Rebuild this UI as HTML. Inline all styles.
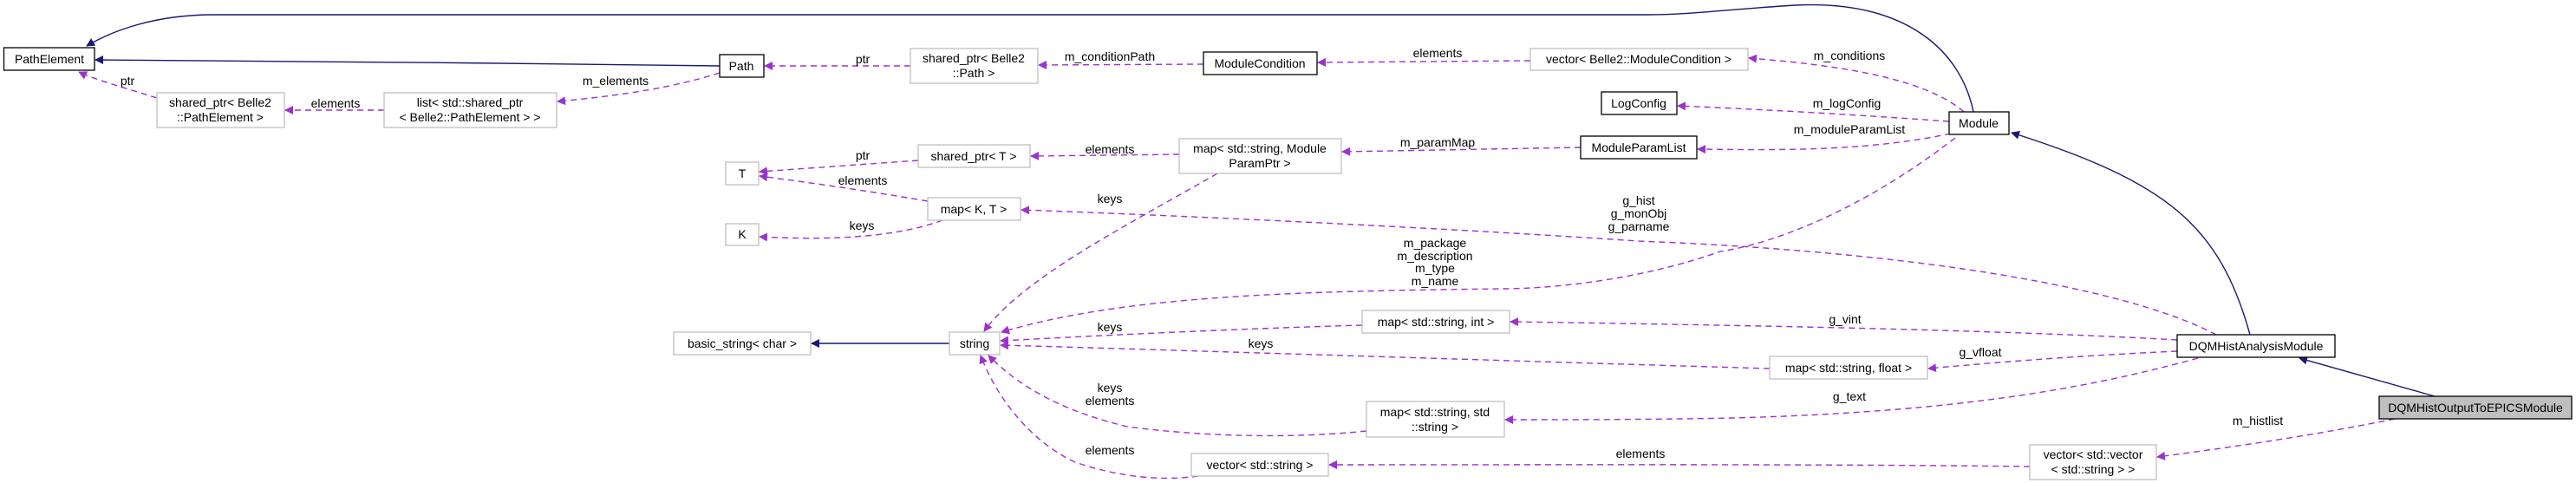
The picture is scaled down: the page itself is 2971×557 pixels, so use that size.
<!DOCTYPE html>
<html><head><meta charset="utf-8"><style>
html,body{margin:0;padding:0;background:#fff;}
svg{display:block;}
text{font-family:"Liberation Sans",sans-serif;font-size:14px;fill:#000;}
.b{fill:#fff;stroke:#000;stroke-width:1.3;}
.g{fill:#fff;stroke:#bfbfbf;stroke-width:1.3;}
.n{fill:none;stroke:#191970;stroke-width:1.4;}
.d{fill:none;stroke:#9a32cd;stroke-width:1.4;stroke-dasharray:7,5;}
</style></head><body>
<svg width="2971" height="557" viewBox="0 0 2971 557" xmlns="http://www.w3.org/2000/svg">
<defs>
<marker id="an" markerWidth="10" markerHeight="10" refX="9" refY="5" orient="auto" markerUnits="userSpaceOnUse" viewBox="0 0 10 10"><path d="M0,0 L10,5 L0,10 z" fill="#191970"/></marker>
<marker id="ap" markerWidth="10" markerHeight="10" refX="9" refY="5" orient="auto" markerUnits="userSpaceOnUse" viewBox="0 0 10 10"><path d="M0,0 L10,5 L0,10 z" fill="#9a32cd"/></marker>
</defs>

<!-- solid inheritance edges -->
<path class="n" marker-end="url(#an)" d="M2276,129 C2262,60 2200,0 2071,6 C2000,10 1950,17 1900,17 L245,17 C180,17 130,35 100,53"/>
<path class="n" marker-end="url(#an)" d="M830,76 C600,73 300,70 110,69"/>
<path class="n" marker-end="url(#an)" d="M2595,386 C2560,260 2500,210 2320,153"/>
<path class="n" marker-end="url(#an)" d="M2808,457 L2652,413"/>
<path class="n" marker-end="url(#an)" d="M1095,396 L936,396"/>

<!-- dashed edges -->
<path class="d" marker-end="url(#ap)" d="M181,113 C140,100 110,92 91,83"/>
<path class="d" marker-end="url(#ap)" d="M443,127 L329,127"/>
<path class="d" marker-end="url(#ap)" d="M830,84 C780,100 720,110 643,117"/>
<path class="d" marker-end="url(#ap)" d="M1050,76 L882,76"/>
<path class="d" marker-end="url(#ap)" d="M1388,74 L1198,75"/>
<path class="d" marker-end="url(#ap)" d="M1765,70 L1520,72"/>
<path class="d" marker-end="url(#ap)" d="M2265,129 C2220,90 2120,75 2017,67"/>
<path class="d" marker-end="url(#ap)" d="M2248,140 C2150,133 2050,127 1935,122"/>
<path class="d" marker-end="url(#ap)" d="M2250,154 C2150,175 2050,173 1958,172"/>
<path class="d" marker-end="url(#ap)" d="M1823,170 L1548,175"/>
<path class="d" marker-end="url(#ap)" d="M1360,178 L1189,180"/>
<path class="d" marker-end="url(#ap)" d="M1059,185 L876,198"/>
<path class="d" marker-end="url(#ap)" d="M1070,232 C1000,220 930,210 876,203"/>
<path class="d" marker-end="url(#ap)" d="M1087,254 C1030,275 950,277 876,273"/>
<path class="d" marker-end="url(#ap)" d="M1404,200 C1300,260 1180,320 1135,382"/>
<path class="d" marker-end="url(#ap)" d="M2556,386 C2450,330 2200,290 1889,278 C1700,265 1400,250 1178,242"/>
<path class="d" marker-end="url(#ap)" d="M2255,159 C2150,240 2050,280 1984,290 C1900,320 1800,333 1731,333 C1500,336 1300,340 1155,383"/>
<path class="d" marker-end="url(#ap)" d="M2511,392 C2300,380 2000,375 1742,371"/>
<path class="d" marker-end="url(#ap)" d="M1571,375 C1400,380 1250,388 1154,393"/>
<path class="d" marker-end="url(#ap)" d="M2041,425 C1700,415 1400,405 1154,398"/>
<path class="d" marker-end="url(#ap)" d="M2511,405 C2400,410 2300,418 2224,425"/>
<path class="d" marker-end="url(#ap)" d="M2535,413 C2400,450 2250,475 2000,482 C1900,484 1800,484 1736,484"/>
<path class="d" marker-end="url(#ap)" d="M1576,497 C1500,505 1400,505 1300,492 C1230,475 1180,450 1140,410"/>
<path class="d" marker-end="url(#ap)" d="M1382,549 C1340,555 1290,550 1240,533 C1190,510 1150,460 1131,410"/>
<path class="d" marker-end="url(#ap)" d="M2341,538 C2100,535 1800,536 1533,536"/>
<path class="d" marker-end="url(#ap)" d="M2762,483 C2680,500 2580,515 2488,527"/>

<!-- edge labels -->
<g text-anchor="middle">
<text x="147" y="98">ptr</text>
<text x="387" y="124">elements</text>
<text x="710" y="98">m_elements</text>
<text x="995" y="73">ptr</text>
<text x="1280" y="70">m_conditionPath</text>
<text x="1658" y="66">elements</text>
<text x="2133" y="69">m_conditions</text>
<text x="2130" y="124">m_logConfig</text>
<text x="2133" y="154">m_moduleParamList</text>
<text x="1658" y="169">m_paramMap</text>
<text x="1280" y="177">elements</text>
<text x="995" y="184">ptr</text>
<text x="995" y="213">elements</text>
<text x="994" y="265">keys</text>
<text x="1280" y="234">keys</text>
<text x="1890" y="236">g_hist</text>
<text x="1890" y="251">g_monObj</text>
<text x="1890" y="266">g_parname</text>
<text x="1655" y="285">m_package</text>
<text x="1655" y="300">m_description</text>
<text x="1655" y="314">m_type</text>
<text x="1655" y="329">m_name</text>
<text x="1280" y="382">keys</text>
<text x="1454" y="401">keys</text>
<text x="2128" y="373">g_vint</text>
<text x="2284" y="411">g_vfloat</text>
<text x="2133" y="462">g_text</text>
<text x="1280" y="452">keys</text>
<text x="1280" y="467">elements</text>
<text x="1280" y="524">elements</text>
<text x="1892" y="528">elements</text>
<text x="2604" y="490">m_histlist</text>
</g>

<!-- nodes -->
<g text-anchor="middle">
<rect class="b" x="4.5" y="55" width="104.5" height="26"/><text x="57" y="73">PathElement</text>
<rect class="g" x="181" y="107" width="147" height="40"/><text x="254" y="123">shared_ptr&lt; Belle2</text><text x="254" y="140">::PathElement &gt;</text>
<rect class="g" x="443" y="107" width="199" height="40"/><text x="542" y="123">list&lt; std::shared_ptr</text><text x="542" y="140">&lt; Belle2::PathElement &gt; &gt;</text>
<rect class="b" x="830" y="63" width="51" height="26"/><text x="855" y="81">Path</text>
<rect class="g" x="1050" y="56" width="147" height="40"/><text x="1123" y="72">shared_ptr&lt; Belle2</text><text x="1123" y="89">::Path &gt;</text>
<rect class="b" x="1388" y="60" width="131" height="26"/><text x="1453" y="78">ModuleCondition</text>
<rect class="g" x="1765" y="56" width="251" height="25"/><text x="1890" y="73">vector&lt; Belle2::ModuleCondition &gt;</text>
<rect class="b" x="1847" y="106" width="87" height="26"/><text x="1890" y="124">LogConfig</text>
<rect class="b" x="1823" y="157" width="134" height="26"/><text x="1890" y="175">ModuleParamList</text>
<rect class="g" x="1360" y="160" width="187" height="40"/><text x="1453" y="176">map&lt; std::string, Module</text><text x="1453" y="193">ParamPtr &gt;</text>
<rect class="g" x="837" y="187" width="38" height="26"/><text x="856" y="205">T</text>
<rect class="g" x="837" y="258" width="38" height="25"/><text x="856" y="275">K</text>
<rect class="g" x="1059" y="167" width="129" height="26"/><text x="1123" y="185">shared_ptr&lt; T &gt;</text>
<rect class="g" x="1070" y="228" width="107" height="26"/><text x="1123" y="246">map&lt; K, T &gt;</text>
<rect class="g" x="777" y="383" width="158" height="26"/><text x="856" y="401">basic_string&lt; char &gt;</text>
<rect class="g" x="1095" y="383" width="58" height="26"/><text x="1124" y="401">string</text>
<rect class="g" x="1571" y="358" width="170" height="26"/><text x="1656" y="376">map&lt; std::string, int &gt;</text>
<rect class="g" x="2041" y="411" width="182" height="26"/><text x="2132" y="429">map&lt; std::string, float &gt;</text>
<rect class="g" x="1576" y="463" width="159" height="41"/><text x="1655" y="480">map&lt; std::string, std</text><text x="1655" y="497">::string &gt;</text>
<rect class="g" x="1374" y="523" width="158" height="26"/><text x="1453" y="541">vector&lt; std::string &gt;</text>
<rect class="g" x="2341" y="513" width="146" height="40"/><text x="2414" y="529">vector&lt; std::vector</text><text x="2414" y="546">&lt; std::string &gt; &gt;</text>
<rect class="b" x="2248" y="129" width="69" height="26"/><text x="2282" y="147">Module</text>
<rect class="b" x="2511" y="386" width="182" height="26"/><text x="2602" y="404">DQMHistAnalysisModule</text>
<rect x="2744" y="457" width="222" height="26" fill="#bfbfbf" stroke="#000" stroke-width="1.3"/><text x="2855" y="475">DQMHistOutputToEPICSModule</text>
</g>
</svg>
</body></html>
